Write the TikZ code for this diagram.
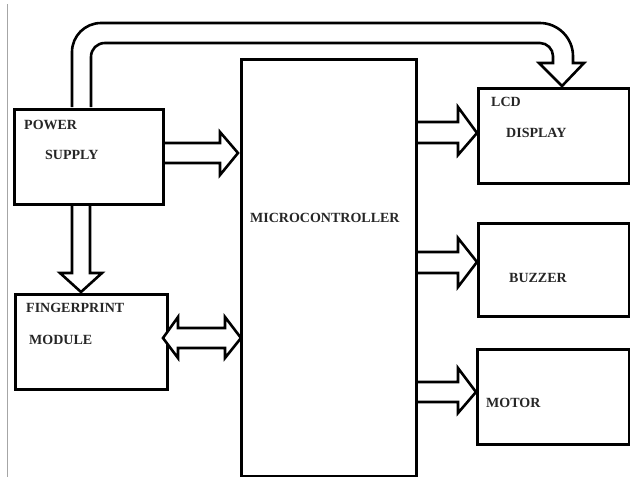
\documentclass[tikz,border=0pt]{standalone}
\usepackage{fontspec}
\setmainfont{Liberation Serif}
\begin{document}
\begin{tikzpicture}[x=1pt,y=-1pt,
  box/.style={draw=black,line width=2.6pt,fill=white,inner sep=0pt,anchor=north west},
  lbl/.style={anchor=west,inner sep=0pt,text=black!85,font=\fontsize{14}{16}\selectfont\bfseries},
  blk/.style={draw=black,line width=2.6pt,line join=miter}]
\useasboundingbox (0,0) rectangle (630,477);
\draw[black!35,line width=0.8pt] (7,4) -- (7,477);
% boxes
\node[box,minimum width=149pt,minimum height=95pt] (ps) at (13,108) {};
\node[box,minimum width=152pt,minimum height=95pt] (fp) at (14,293) {};
\node[box,minimum width=175pt,minimum height=417pt] (mc) at (240,58) {};
\node[box,minimum width=151pt,minimum height=95pt] (lcd) at (477,87) {};
\node[box,minimum width=151pt,minimum height=93pt] (bz) at (477,222) {};
\node[box,minimum width=152pt,minimum height=95pt] (mt) at (476,348) {};
% labels
\node[lbl] (t1) at (24,125) {POWER};
\node[lbl] (t2) at (45,155) {SUPPLY};
\node[lbl] (t3) at (26,308) {FINGERPRINT};
\node[lbl] (t4) at (29,340) {MODULE};
\node[lbl] (t5) at (250,218) {MICROCONTROLLER};
\node[lbl] (t6) at (491,102) {LCD};
\node[lbl] (t7) at (506,133) {DISPLAY};
\node[lbl] (t8) at (509,278) {BUZZER};
\node[lbl] (t9) at (486,403) {MOTOR};
% power -> micro
\draw[blk] (162,143) -- (220,143) -- (220,132) -- (238,153) -- (220,175) -- (220,163) -- (162,163);
% power -> fingerprint
\draw[blk] (72,203) -- (72,273) -- (60,273) -- (81,292) -- (102,273) -- (90,273) -- (90,203);
% fingerprint <-> micro
\draw[blk,fill=white] (178,328) -- (225,328) -- (225,317) -- (241,338) -- (225,358) -- (225,348) -- (178,348) -- (178,358) -- (163,338) -- (178,317) -- cycle;
% micro -> outputs
\draw[blk] (415,122) -- (458,122) -- (458,107) -- (477,133) -- (458,155) -- (458,143) -- (415,143);
\draw[blk] (415,252) -- (458,252) -- (458,238) -- (477,262) -- (458,287) -- (458,273) -- (415,273);
\draw[blk] (415,382) -- (458,382) -- (458,368) -- (476,392) -- (458,413) -- (458,402) -- (415,402);
% power -> LCD curved
\draw[blk] (72,107) -- (72,52) .. controls (72,36) and (85,23) .. (101,23) -- (540,23)
  .. controls (558,23) and (573,38) .. (573,56) -- (573,63) -- (584,63) -- (562,86) -- (539,63)
  -- (553,63) -- (553,56) .. controls (553,49) and (547,43) .. (540,43) -- (105,43)
  .. controls (97,43) and (91,49) .. (91,57) -- (91,107);
\end{tikzpicture}
\end{document}
